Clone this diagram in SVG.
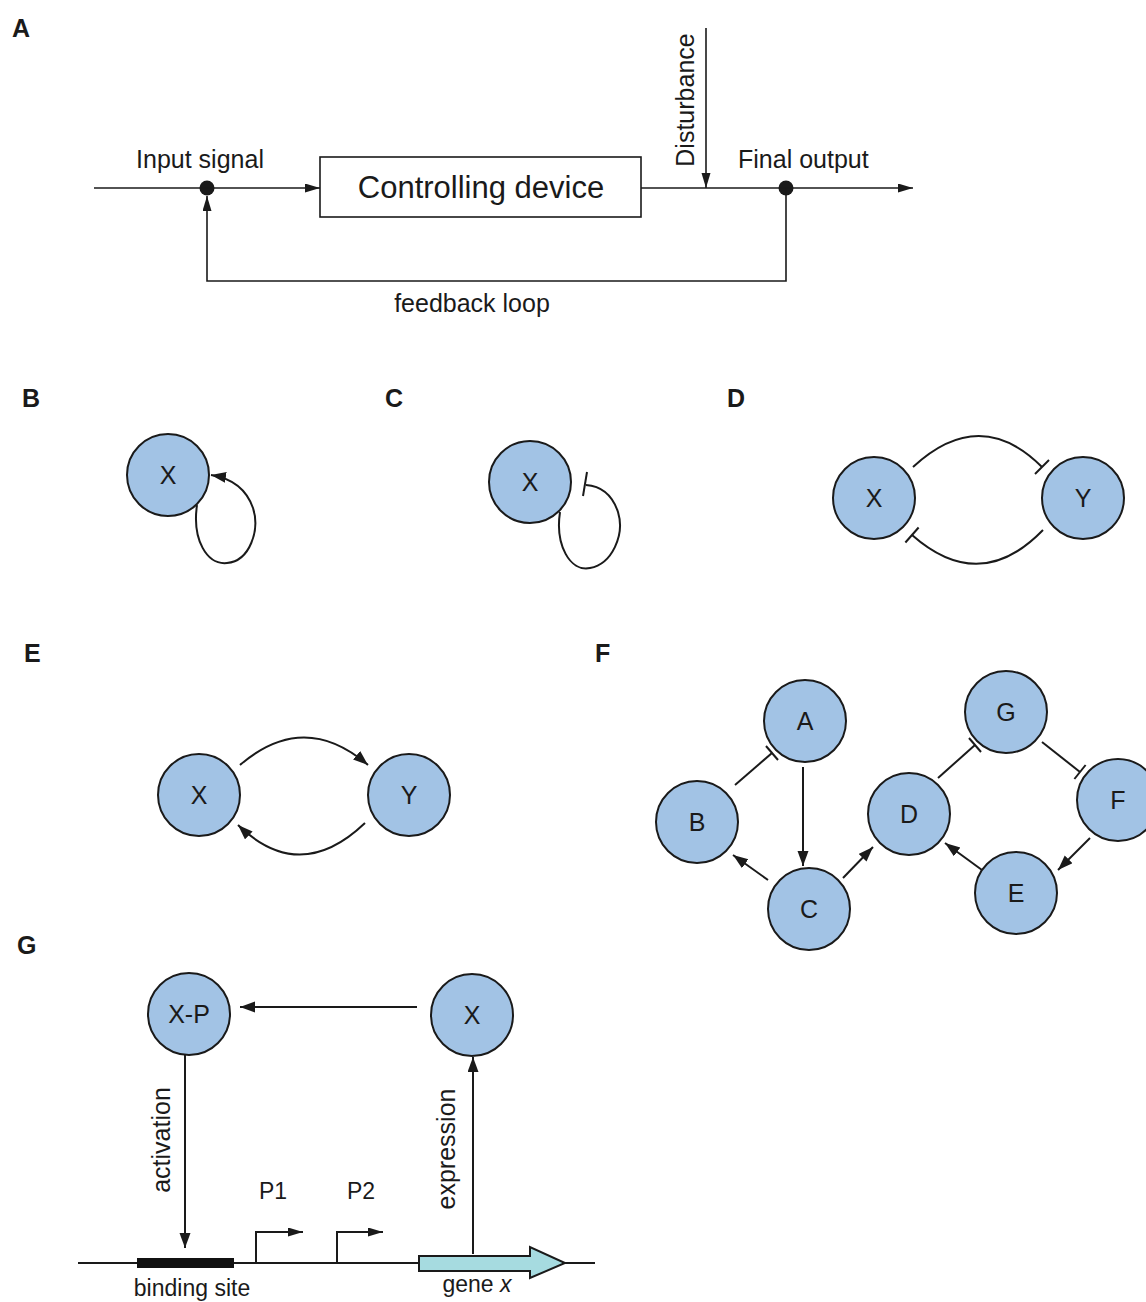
<svg xmlns="http://www.w3.org/2000/svg" width="1146" height="1302" viewBox="0 0 1146 1302">
  <defs>
    <style>
      text { font-family: "Liberation Sans", Arial, sans-serif; fill: #1a1a1a; }
      .panel { font-size: 25px; font-weight: bold; }
      .lbl { font-size: 25px; }
      .small { font-size: 23px; }
      .node-label { font-size: 25px; text-anchor: middle; }
      .node { fill: #a2c3e5; stroke: #1a1a1a; stroke-width: 2; }
      .edge { fill: none; stroke: #1a1a1a; stroke-width: 2; }
      .thin { fill: none; stroke: #1a1a1a; stroke-width: 1.6; }
    </style>
    <marker id="arrow" markerUnits="userSpaceOnUse" markerWidth="16" markerHeight="12" refX="15" refY="5.5" orient="auto">
      <path d="M0,0 L15,5.5 L0,11 z" fill="#1a1a1a"/>
    </marker>
    <marker id="arrowSm" markerUnits="userSpaceOnUse" markerWidth="16" markerHeight="10" refX="15" refY="4.5" orient="auto">
      <path d="M0,0 L15,4.5 L0,9 z" fill="#1a1a1a"/>
    </marker>
  </defs>
  <rect width="1146" height="1302" fill="#ffffff"/>

  <!-- panel letters -->
  <g id="panel-labels">
    <text class="panel" x="12" y="37">A</text>
    <text class="panel" x="22" y="407">B</text>
    <text class="panel" x="385" y="407">C</text>
    <text class="panel" x="727" y="407">D</text>
    <text class="panel" x="24" y="662">E</text>
    <text class="panel" x="595" y="662">F</text>
    <text class="panel" x="17" y="954">G</text>
  </g>

  <!-- A: control loop block diagram -->
  <g id="a-device">
    <rect x="320" y="157" width="321" height="60" fill="#ffffff" stroke="#1a1a1a" stroke-width="1.6"/>
    <text x="481" y="198" font-size="31" text-anchor="middle">Controlling device</text>
  </g>
  <g id="a-input">
    <circle cx="207" cy="188" r="7.5" fill="#1a1a1a"/>
    <text class="lbl" x="200" y="168" text-anchor="middle">Input signal</text>
  </g>
  <g id="a-output">
    <circle cx="786" cy="188" r="7.5" fill="#1a1a1a"/>
    <text class="lbl" x="738" y="168">Final output</text>
  </g>
  <g id="a-disturbance">
    <text class="lbl" transform="translate(694,100) rotate(-90)" text-anchor="middle">Disturbance</text>
  </g>
  <g id="a-feedback-label">
    <text class="lbl" x="472" y="312" text-anchor="middle">feedback loop</text>
  </g>
  <g id="a-connectors">
    <line class="thin" x1="94" y1="188" x2="320" y2="188" marker-end="url(#arrowSm)"/>
    <line class="thin" x1="641" y1="188" x2="913" y2="188" marker-end="url(#arrowSm)"/>
    <line class="thin" x1="706" y1="28" x2="706" y2="188" marker-end="url(#arrowSm)"/>
    <path class="thin" d="M786,188 V281 H207 V196" marker-end="url(#arrowSm)"/>
  </g>

  <!-- B: positive autoregulation -->
  <g id="b-x">
    <circle class="node" cx="168" cy="475" r="41"/>
    <text class="node-label" x="168" y="484">X</text>
  </g>
  <!-- C: negative autoregulation -->
  <g id="c-x">
    <circle class="node" cx="530" cy="482" r="41"/>
    <text class="node-label" x="530" y="491">X</text>
  </g>
  <!-- D: mutual repression -->
  <g id="d-x">
    <circle class="node" cx="874" cy="498" r="41"/>
    <text class="node-label" x="874" y="507">X</text>
  </g>
  <g id="d-y">
    <circle class="node" cx="1083" cy="498" r="41"/>
    <text class="node-label" x="1083" y="507">Y</text>
  </g>
  <!-- E: mutual activation -->
  <g id="e-x">
    <circle class="node" cx="199" cy="795" r="41"/>
    <text class="node-label" x="199" y="804">X</text>
  </g>
  <g id="e-y">
    <circle class="node" cx="409" cy="795" r="41"/>
    <text class="node-label" x="409" y="804">Y</text>
  </g>
  <!-- F: network with two loops -->
  <g id="f-a">
    <circle class="node" cx="805" cy="721" r="41"/>
    <text class="node-label" x="805" y="730">A</text>
  </g>
  <g id="f-b">
    <circle class="node" cx="697" cy="822" r="41"/>
    <text class="node-label" x="697" y="831">B</text>
  </g>
  <g id="f-c">
    <circle class="node" cx="809" cy="909" r="41"/>
    <text class="node-label" x="809" y="918">C</text>
  </g>
  <g id="f-d">
    <circle class="node" cx="909" cy="814" r="41"/>
    <text class="node-label" x="909" y="823">D</text>
  </g>
  <g id="f-g">
    <circle class="node" cx="1006" cy="712" r="41"/>
    <text class="node-label" x="1006" y="721">G</text>
  </g>
  <g id="f-f">
    <circle class="node" cx="1118" cy="800" r="41"/>
    <text class="node-label" x="1118" y="809">F</text>
  </g>
  <g id="f-e">
    <circle class="node" cx="1016" cy="893" r="41"/>
    <text class="node-label" x="1016" y="902">E</text>
  </g>

  <!-- G: gene circuit -->
  <g id="g-xp">
    <circle class="node" cx="189" cy="1014" r="41"/>
    <text class="node-label" x="189" y="1023">X-P</text>
  </g>
  <g id="g-x">
    <circle class="node" cx="472" cy="1015" r="41"/>
    <text class="node-label" x="472" y="1024">X</text>
  </g>
  <g id="g-dna">
    <line class="edge" x1="78" y1="1263" x2="595" y2="1263"/>
    <rect x="137" y="1258" width="97" height="10" fill="#111111"/>
    <text class="small" x="192" y="1296" text-anchor="middle">binding site</text>
    <polygon points="419,1256 530,1256 530,1247 565,1263 530,1278 530,1271 419,1271" fill="#a6dbe0" stroke="#1a1a1a" stroke-width="2"/>
    <text class="small" x="477" y="1292" text-anchor="middle">gene <tspan font-style="italic">x</tspan></text>
  </g>
  <g id="g-p1">
    <path class="edge" d="M256,1263 V1232 H303" marker-end="url(#arrowSm)"/>
    <text class="small" x="259" y="1199">P1</text>
  </g>
  <g id="g-p2">
    <path class="edge" d="M337,1263 V1232 H383" marker-end="url(#arrowSm)"/>
    <text class="small" x="347" y="1199">P2</text>
  </g>

  <!-- connectors of panels B to G -->
  <g id="connectors">
    <!-- B self activation -->
    <path class="edge" d="M197,505 C192,540 207,565 227,563 C250,561 260,530 253,508 C246,488 230,478 211,475" marker-end="url(#arrow)"/>
    <!-- C self repression -->
    <path class="edge" d="M560,512 C555,545 570,572 590,568 C612,564 625,535 618,512 C612,494 600,486 586,485"/>
    <line class="edge" x1="587" y1="472" x2="583" y2="496"/>
    <!-- D mutual repression -->
    <path class="edge" d="M913,467 Q980,405 1042,467"/>
    <line class="edge" x1="1035" y1="474" x2="1049" y2="460"/>
    <path class="edge" d="M1043,530 Q980,595 912,535"/>
    <line class="edge" x1="918.6" y1="527.5" x2="905.4" y2="542.5"/>
    <!-- E mutual activation -->
    <path class="edge" d="M240,765 Q304,710 368,765" marker-end="url(#arrow)"/>
    <path class="edge" d="M365,823 Q300,885 238,825" marker-end="url(#arrow)"/>
    <!-- F edges -->
    <line class="edge" x1="735" y1="785" x2="772" y2="753"/>
    <line class="edge" x1="766" y1="746" x2="778" y2="760"/>
    <line class="edge" x1="803" y1="767" x2="803" y2="866" marker-end="url(#arrow)"/>
    <line class="edge" x1="768" y1="880" x2="733" y2="855" marker-end="url(#arrow)"/>
    <line class="edge" x1="843" y1="878" x2="873" y2="847" marker-end="url(#arrow)"/>
    <line class="edge" x1="938" y1="778" x2="975" y2="745"/>
    <line class="edge" x1="969" y1="738" x2="981" y2="752"/>
    <line class="edge" x1="1042" y1="742" x2="1080" y2="772"/>
    <line class="edge" x1="1085.6" y1="765" x2="1074.4" y2="779"/>
    <line class="edge" x1="1090" y1="838" x2="1058" y2="870" marker-end="url(#arrow)"/>
    <line class="edge" x1="982" y1="870" x2="945" y2="843" marker-end="url(#arrow)"/>
    <!-- G edges -->
    <line class="edge" x1="417" y1="1007" x2="240" y2="1007" marker-end="url(#arrow)"/>
    <line class="edge" x1="185" y1="1055" x2="185" y2="1248" marker-end="url(#arrow)"/>
    <line class="edge" x1="473" y1="1254" x2="473" y2="1057" marker-end="url(#arrow)"/>
  </g>
  <g id="g-labels">
    <text class="lbl" transform="translate(170,1140) rotate(-90)" text-anchor="middle">activation</text>
    <text class="lbl" transform="translate(455,1149) rotate(-90)" text-anchor="middle">expression</text>
  </g>
</svg>
